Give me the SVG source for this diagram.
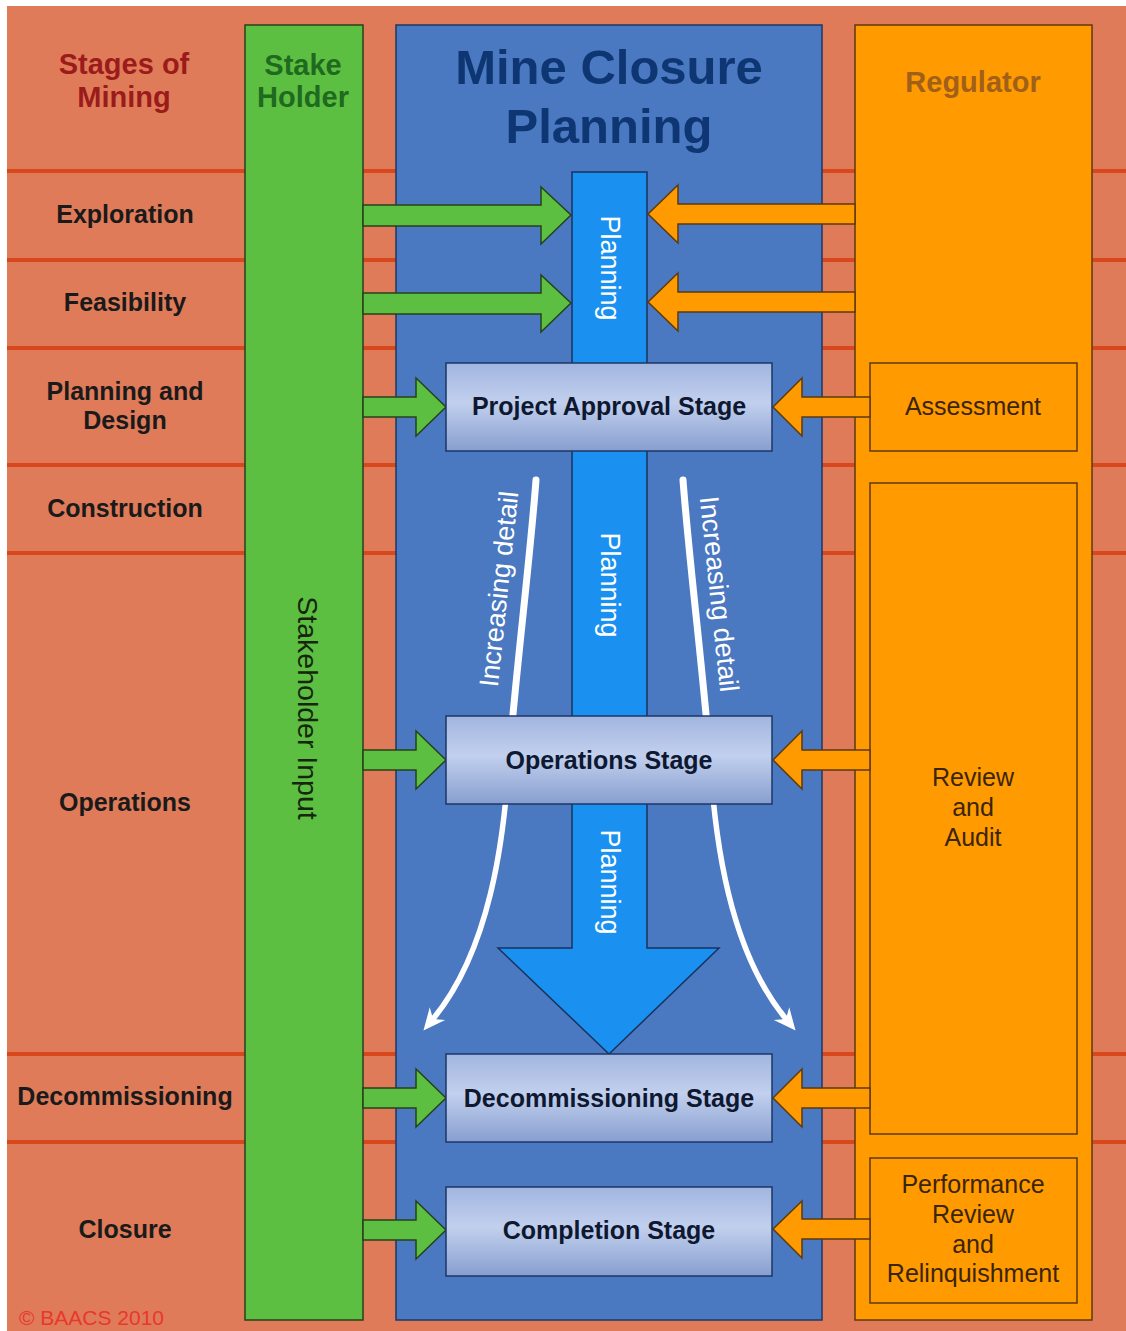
<svg xmlns="http://www.w3.org/2000/svg" width="1126" height="1331" viewBox="0 0 1126 1331">
<defs>
<style>
.bg{fill:#E07B59}
.hl{stroke:#D8481C;stroke-width:4}
.col-g{fill:#5DBF41;stroke:#27421A;stroke-width:1.5}
.col-b{fill:#4A78C1;stroke:#1D3766;stroke-width:1.5}
.col-o{fill:#FF9A00;stroke:#5E3A0C;stroke-width:1.5}
.inner-o{fill:#FF9A00;stroke:#5E3A0C;stroke-width:1.5}
.bar{fill:#1A91F0;stroke:#17335E;stroke-width:1.5}
.stage{fill:url(#sg);stroke:#1D3766;stroke-width:1.5}
.ga{fill:#5DBF41;stroke:#27421A;stroke-width:1.5;stroke-linejoin:miter}
.oa{fill:#FF9A00;stroke:#5E3A0C;stroke-width:1.5;stroke-linejoin:miter}
.wc{fill:none;stroke:#FFFFFF;stroke-linecap:round}
.lab{font-family:"Liberation Sans",Arial,sans-serif;font-weight:bold;font-size:25px;fill:#1A1A1A;text-anchor:middle}
.stt{font-family:"Liberation Sans",Arial,sans-serif;font-weight:bold;font-size:25px;fill:#0E1830;text-anchor:middle}
.reg{font-family:"Liberation Sans",Arial,sans-serif;font-size:25px;fill:#3A2508;text-anchor:middle}
.hd{font-family:"Liberation Sans",Arial,sans-serif;font-weight:bold;font-size:29px;text-anchor:middle}
.wt{font-family:"Liberation Sans",Arial,sans-serif;font-size:27px;fill:#FFFFFF;text-anchor:middle}
</style>
<linearGradient id="sg" x1="0" y1="0" x2="0" y2="1">
<stop offset="0" stop-color="#A1B5DF"/>
<stop offset="0.45" stop-color="#C2D0EE"/>
<stop offset="1" stop-color="#879ECF"/>
</linearGradient>
<marker id="wh" viewBox="0 0 30 30" refX="10" refY="15" markerWidth="30" markerHeight="30" orient="auto" markerUnits="userSpaceOnUse">
<path d="M25,15 L3,5 L10,15 L3,25 Z" fill="#FFFFFF"/>
</marker>
</defs>

<rect class="bg" x="7" y="6" width="1119" height="1325"/>

<g id="row-lines">
<line class="hl" x1="7" y1="171" x2="1126" y2="171"/>
<line class="hl" x1="7" y1="260" x2="1126" y2="260"/>
<line class="hl" x1="7" y1="348" x2="1126" y2="348"/>
<line class="hl" x1="7" y1="465" x2="1126" y2="465"/>
<line class="hl" x1="7" y1="553" x2="1126" y2="553"/>
<line class="hl" x1="7" y1="1054" x2="1126" y2="1054"/>
<line class="hl" x1="7" y1="1142" x2="1126" y2="1142"/>
</g>

<g id="stages-of-mining">
<text class="hd" x="124" y="74" fill="#9B1B1B">Stages of</text>
<text class="hd" x="124" y="107" fill="#9B1B1B">Mining</text>
<text class="lab" x="125" y="223">Exploration</text>
<text class="lab" x="125" y="311">Feasibility</text>
<text class="lab" x="125" y="400">Planning and</text>
<text class="lab" x="125" y="429">Design</text>
<text class="lab" x="125" y="517">Construction</text>
<text class="lab" x="125" y="811">Operations</text>
<text class="lab" x="125" y="1105">Decommissioning</text>
<text class="lab" x="125" y="1238">Closure</text>
<text x="19" y="1325" font-family="Liberation Sans,Arial,sans-serif" font-size="21" fill="#E8382A">© BAACS 2010</text>
</g>

<g id="stakeholder">
<rect class="col-g" x="245" y="25" width="118" height="1295"/>
<text class="hd" x="303" y="75" fill="#1F6A1F">Stake</text>
<text class="hd" x="303" y="107" fill="#1F6A1F">Holder</text>
<text transform="translate(298,708) rotate(90)" x="0" y="0" font-family="Liberation Sans,Arial,sans-serif" font-size="28.5" fill="#16260C" text-anchor="middle">Stakeholder Input</text>
</g>

<g id="mine-closure-planning">
<rect class="col-b" x="396" y="25" width="426" height="1295"/>
<text class="hd" x="609" y="84" fill="#0E3672" style="font-size:49px">Mine Closure</text>
<text class="hd" x="609" y="143" fill="#0E3672" style="font-size:49px">Planning</text>
</g>

<g id="regulator">
<rect class="col-o" x="855" y="25" width="237" height="1295"/>
<text class="hd" x="973" y="92" fill="#A0601A">Regulator</text>
</g>

<g id="planning-arrow">
<path class="bar" d="M572,172 L647,172 L647,948 L719,948 L609,1054 L498,948 L572,948 Z"/>
<text class="wt" transform="translate(601,268) rotate(90)">Planning</text>
<text class="wt" transform="translate(601,585) rotate(90)">Planning</text>
<text class="wt" transform="translate(601,882) rotate(90)">Planning</text>
</g>

<g id="increasing-detail">
<path class="wc" stroke-width="7" d="M536,480 C530,560 515,680 509,760"/>
<path class="wc" stroke-width="5.5" d="M509,760 C504,840 490,950 433,1019" marker-end="url(#wh)"/>
<path class="wc" stroke-width="7" d="M683,480 C689,560 704,680 710,760"/>
<path class="wc" stroke-width="5.5" d="M710,760 C715,840 729,950 786,1019" marker-end="url(#wh)"/>
<text class="wt" transform="translate(508,590) rotate(-84)">Increasing detail</text>
<text class="wt" transform="translate(710,595) rotate(84)">Increasing detail</text>
</g>

<g id="assessment">
<rect class="inner-o" x="870" y="363" width="207" height="88"/>
<text class="reg" x="973" y="415">Assessment</text>
</g>
<g id="review-audit">
<rect class="inner-o" x="870" y="483" width="207" height="651"/>
<text class="reg" x="973" y="786">Review</text>
<text class="reg" x="973" y="816">and</text>
<text class="reg" x="973" y="846">Audit</text>
</g>
<g id="performance-review">
<rect class="inner-o" x="870" y="1158" width="207" height="145"/>
<text class="reg" x="973" y="1193">Performance</text>
<text class="reg" x="973" y="1223">Review</text>
<text class="reg" x="973" y="1253">and</text>
<text class="reg" x="973" y="1282">Relinquishment</text>
</g>

<g id="connectors">
<path class="ga" d="M363,205 L541,205 L541,187 L571,215 L541,244 L541,226 L363,226 Z"/>
<path class="ga" d="M363,293 L541,293 L541,275 L571,303 L541,332 L541,314 L363,314 Z"/>
<path class="ga" d="M363,397 L416,397 L416,378 L446,407 L416,436 L416,417 L363,417 Z"/>
<path class="ga" d="M363,750 L416,750 L416,731 L446,760 L416,789 L416,770 L363,770 Z"/>
<path class="ga" d="M363,1088 L416,1088 L416,1069 L446,1098 L416,1127 L416,1108 L363,1108 Z"/>
<path class="ga" d="M363,1220 L416,1220 L416,1201 L446,1230 L416,1259 L416,1240 L363,1240 Z"/>
<path class="oa" d="M855,204 L678,204 L678,185 L648,214 L678,243 L678,224 L855,224 Z"/>
<path class="oa" d="M855,292 L678,292 L678,273 L648,302 L678,331 L678,312 L855,312 Z"/>
<path class="oa" d="M870,397 L802,397 L802,378 L773,407 L802,436 L802,417 L870,417 Z"/>
<path class="oa" d="M870,750 L802,750 L802,731 L773,760 L802,789 L802,770 L870,770 Z"/>
<path class="oa" d="M870,1088 L802,1088 L802,1069 L773,1098 L802,1127 L802,1108 L870,1108 Z"/>
<path class="oa" d="M870,1219 L802,1219 L802,1201 L773,1229 L802,1258 L802,1239 L870,1239 Z"/>
</g>

<g id="project-approval-stage">
<rect class="stage" x="446" y="363" width="326" height="88"/>
<text class="stt" x="609" y="415">Project Approval Stage</text>
</g>
<g id="operations-stage">
<rect class="stage" x="446" y="716" width="326" height="88"/>
<text class="stt" x="609" y="769">Operations Stage</text>
</g>
<g id="decommissioning-stage">
<rect class="stage" x="446" y="1054" width="326" height="88"/>
<text class="stt" x="609" y="1107">Decommissioning Stage</text>
</g>
<g id="completion-stage">
<rect class="stage" x="446" y="1187" width="326" height="89"/>
<text class="stt" x="609" y="1239">Completion Stage</text>
</g>
</svg>
